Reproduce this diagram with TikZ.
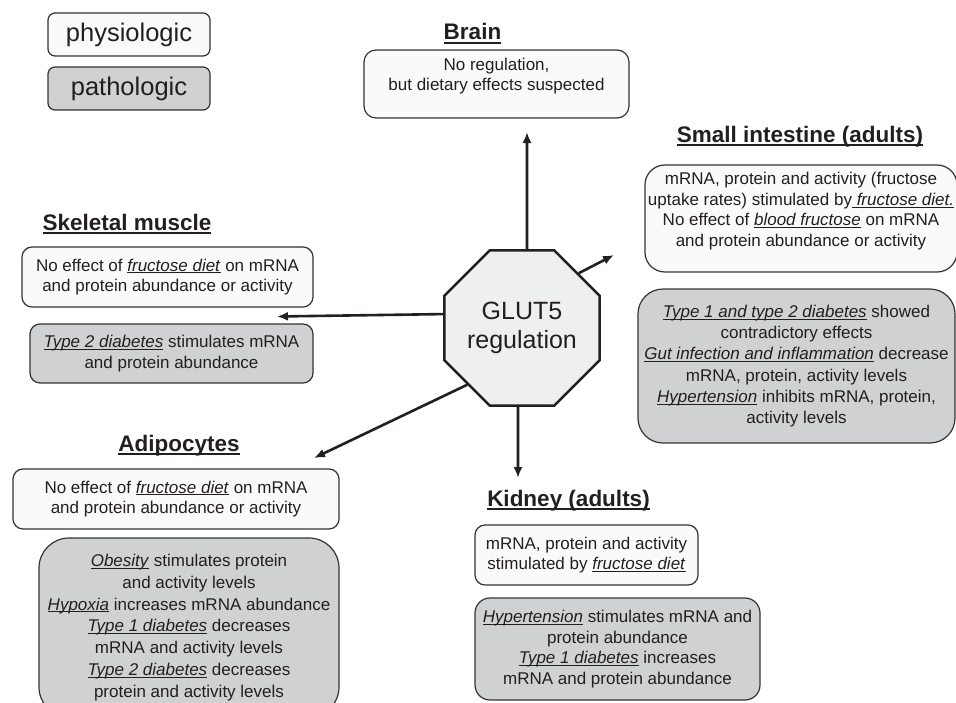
\documentclass[tikz,border=0pt]{standalone}
\usepackage{fontspec}
\setmainfont{Liberation Sans}
\usetikzlibrary{arrows.meta,shapes.geometric}
\definecolor{ink}{HTML}{231F20}
\definecolor{edge}{HTML}{333333}
\definecolor{physfill}{HTML}{FAFAFA}
\definecolor{pathfill}{HTML}{D0D1D3}
\definecolor{octfill}{HTML}{EEEFF1}
\newsavebox\ulbox
\def\uln#1{\sbox\ulbox{#1}\rlap{\rule[-2.2pt]{\wd\ulbox}{0.9pt}}\usebox\ulbox}
\def\tuln#1{\sbox\ulbox{#1}\rlap{\rule[-4pt]{\wd\ulbox}{2pt}}\usebox\ulbox}
\tikzset{
	box/.style={draw=edge, line width=1.2pt, text=ink, align=center, inner sep=3pt, font={\fontsize{17pt}{20.5pt}\selectfont}},
	physio/.style={box, fill=physfill},
	patho/.style={box, fill=pathfill},
	organ/.style={text=ink, anchor=base, inner sep=0pt, font={\fontsize{22.5pt}{27pt}\selectfont\bfseries}},
	arr/.style={draw=ink, line width=2.6pt, -{Latex[length=11pt,width=9pt]}},
}

\begin{document}
\begin{tikzpicture}[x=1pt, y=-1pt]
		%%%%% START %%%%%
		\useasboundingbox (0,0) rectangle (956,702);
		
		% legend
		\node[physio, rounded corners=7pt, minimum width=162pt, minimum height=43pt, font={\fontsize{25.5pt}{30pt}\selectfont}] (phys) at (129,34.5) {physiologic};
		\node[patho, rounded corners=7pt, minimum width=162pt, minimum height=43pt, font={\fontsize{25.5pt}{30pt}\selectfont}] (path) at (129,88.5) {pathologic};
		
		% centre
		\node[regular polygon, regular polygon sides=8, minimum size=141pt, inner sep=0pt, draw=ink, line width=2.5pt, fill=octfill, text=ink, align=center, font={\fontsize{25pt}{29.5pt}\selectfont}] (glut) at (522,328) {GLUT5\\regulation};
		
		% brain
		\node[organ] (brainTitle) at (472.5,39.5) {\tuln{Brain}};
		\node[physio, rounded corners=12pt, minimum width=265pt, minimum height=68pt, text depth=19pt] (brainBox) at (496.5,84) {No regulation,\\but dietary effects suspected};
		
		% small intestine
		\node[organ] (siTitle) at (800,142) {\tuln{Small intestine (adults)}};
		\node[physio, rounded corners=20pt, minimum width=308pt, minimum height=107pt, text depth=18pt] (siBoxA) at (801,218.5) {mRNA, protein and activity (fructose\\uptake rates) stimulated by\uln{ \textit{fructose diet.}}\\No effect of \uln{\textit{blood fructose}} on mRNA\\and protein abundance or activity};
		\node[patho, rounded corners=25pt, minimum width=317pt, minimum height=154pt, font={\fontsize{17pt}{21.2pt}\selectfont}] (siBoxB) at (796.5,366) {\uln{\textit{Type 1 and type 2 diabetes}} showed\\contradictory effects\\\uln{\textit{Gut infection and inflammation}} decrease\\mRNA, protein, activity levels\\\uln{\textit{Hypertension}} inhibits mRNA, protein,\\activity levels};
		
		% skeletal muscle
		\node[organ] (smTitle) at (127,230) {\tuln{Skeletal muscle}};
		\node[physio, rounded corners=10pt, minimum width=291pt, minimum height=60pt] (smBoxA) at (167.5,277) {No effect of \uln{\textit{fructose diet}} on mRNA\\and protein abundance or activity};
		\node[patho, rounded corners=10pt, minimum width=283pt, minimum height=59pt] (smBoxB) at (171.5,353.5) {\uln{\textit{Type 2 diabetes}} stimulates mRNA\\and protein abundance};
		
		% adipocytes
		\node[organ] (adTitle) at (179,451) {\tuln{Adipocytes}};
		\node[physio, rounded corners=10pt, minimum width=326pt, minimum height=60pt] (adBoxA) at (176,499) {No effect of \uln{\textit{fructose diet}} on mRNA\\and protein abundance or activity};
		\node[patho, rounded corners=30pt, minimum width=300pt, minimum height=179pt, font={\fontsize{17pt}{21.8pt}\selectfont}] (adBoxB) at (189,627.5) {\uln{\textit{Obesity}} stimulates protein\\and activity levels\\\uln{\textit{Hypoxia}} increases mRNA abundance\\\uln{\textit{Type 1 diabetes}} decreases\\mRNA and activity levels\\\uln{\textit{Type 2 diabetes}} decreases\\protein and activity levels};
		
		% kidney
		\node[organ] (kidTitle) at (568.5,506) {\tuln{Kidney (adults)}};
		\node[physio, rounded corners=10pt, minimum width=223pt, minimum height=60pt] (kidBoxA) at (586.5,555) {mRNA, protein and activity\\stimulated by \uln{\textit{fructose diet}}};
		\node[patho, rounded corners=15pt, minimum width=285pt, minimum height=102pt] (kidBoxB) at (617.5,649) {\uln{\textit{Hypertension}} stimulates mRNA and\\protein abundance\\\uln{\textit{Type 1 diabetes}} increases\\mRNA and protein abundance};
		
		% arrows
		\coordinate (brainTip) at (527,132);
		\coordinate (siTip) at (614,255);
		\coordinate (smTip) at (277,316.5);
		\coordinate (adTip) at (314,458);
		\coordinate (kidTip) at (518,478);
		
		\draw[arr] ([xshift=5pt]glut.north) -- (brainTip);
		\draw[arr] (glut.44) -- (siTip);
		\draw[arr] (glut.170) -- (smTip);
		\draw[arr] (glut.226) -- (adTip);
		\draw[arr] ([xshift=-4pt]glut.south) -- (kidTip);
		
		%%%%% END %%%%%
\end{tikzpicture}
\end{document}
